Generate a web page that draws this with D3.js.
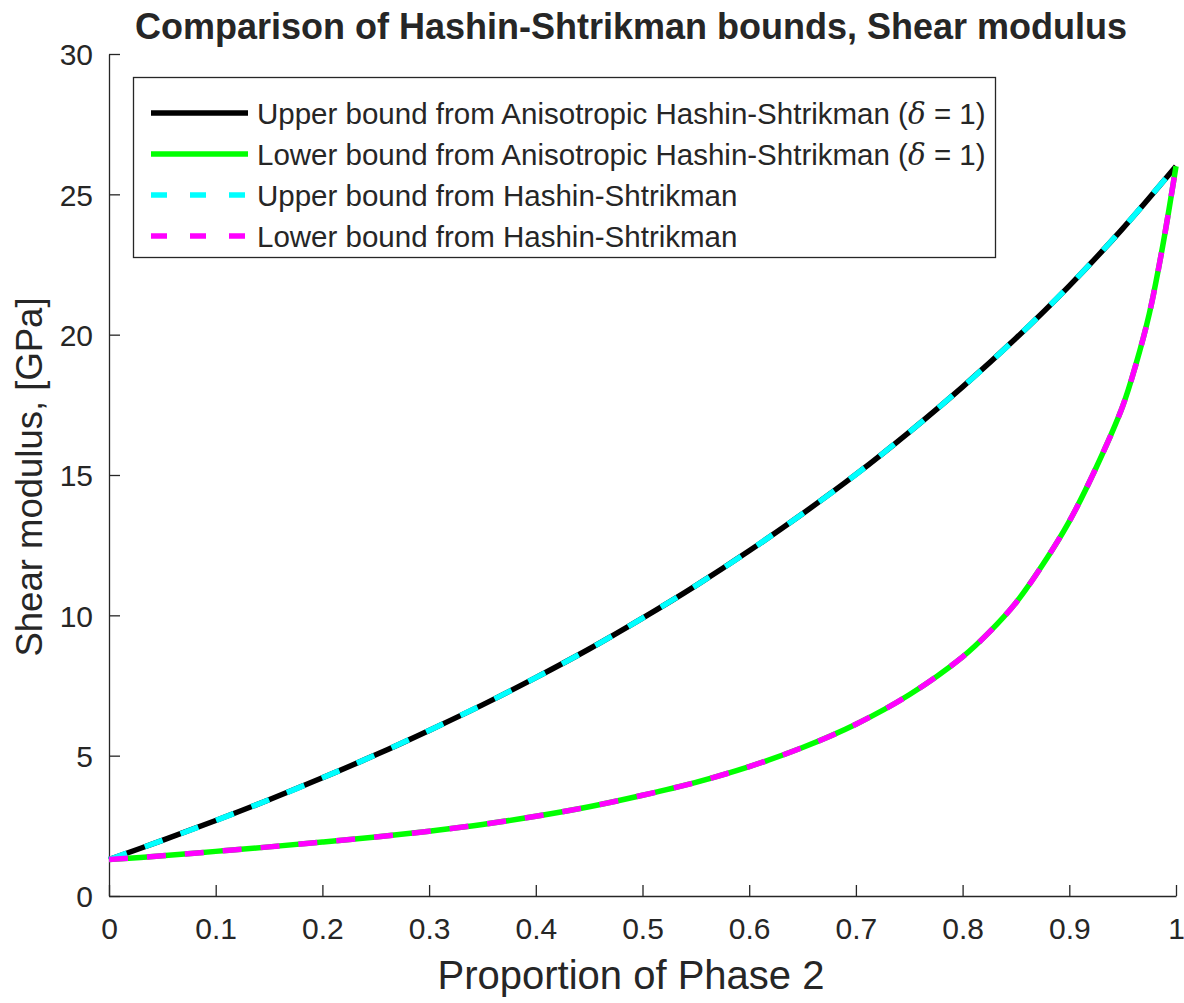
<!DOCTYPE html>
<html>
<head>
<meta charset="utf-8">
<script src="https://cdn.jsdelivr.net/npm/d3@7"></script>
<style>
  html, body { margin: 0; padding: 0; background: #ffffff; }
  svg { display: block; }
  text { font-family: "Liberation Sans", Arial, Helvetica, sans-serif; fill: #262626; }
</style>
</head>
<body>
<svg id="chart" width="1184" height="1003"></svg>
<script>
// Volume fraction of phase 2
const fractionUpper = [0, 0.05, 0.1, 0.15, 0.2, 0.25, 0.3, 0.35, 0.4, 0.45, 0.5,
                       0.55, 0.6, 0.65, 0.7, 0.75, 0.8, 0.85, 0.9, 0.95, 1.0];
// Upper bound shear modulus [GPa]
const shearUpper = [1.30, 1.98, 2.69, 3.43, 4.21, 5.03, 5.90, 6.81, 7.78, 8.80, 9.90,
                    11.06, 12.30, 13.62, 15.02, 16.53, 18.14, 19.87, 21.74, 23.78, 26.0];

const fractionLower = [0, 0.05, 0.1, 0.15, 0.2, 0.25, 0.3, 0.35, 0.4, 0.45, 0.5,
                       0.55, 0.6, 0.65, 0.7, 0.75, 0.8, 0.825, 0.85, 0.875, 0.9,
                       0.925, 0.95, 0.9625, 0.975, 0.9875, 1.0];
// Lower bound shear modulus [GPa]
const shearLower = [1.30, 1.43, 1.59, 1.75, 1.92, 2.10, 2.31, 2.55, 2.84, 3.18, 3.59,
                    4.05, 4.61, 5.29, 6.12, 7.17, 8.52, 9.40, 10.45, 11.80, 13.35,
                    15.25, 17.45, 18.95, 20.75, 23.15, 26.0];

const xTicks = [0, 0.1, 0.2, 0.3, 0.4, 0.5, 0.6, 0.7, 0.8, 0.9, 1];
const yTicks = [0, 5, 10, 15, 20, 25, 30];

const series = [
  { name: "Upper bound from Anisotropic Hashin-Shtrikman", delta: true,  color: "#000000", dashed: false, x: fractionUpper, y: shearUpper },
  { name: "Lower bound from Anisotropic Hashin-Shtrikman", delta: true,  color: "#00ff00", dashed: false, x: fractionLower, y: shearLower },
  { name: "Upper bound from Hashin-Shtrikman",             delta: false, color: "#00ffff", dashed: true,  x: fractionUpper, y: shearUpper },
  { name: "Lower bound from Hashin-Shtrikman",             delta: false, color: "#ff00ff", dashed: true,  x: fractionLower, y: shearLower }
];

const svg = d3.select("#chart");
const plot = { left: 109, right: 1176, top: 54, bottom: 896 };
const textCenter = 631;

const x = d3.scaleLinear().domain([0, 1]).range([plot.left, plot.right]);
const y = d3.scaleLinear().domain([0, 30]).range([plot.bottom, plot.top]);

const axisColor = "#262626";
const tickLen = 11;

// Axes (ticks point inward, no box)
const xAxis = svg.append("g")
  .attr("transform", `translate(0,${plot.bottom})`)
  .call(d3.axisBottom(x).tickValues(xTicks).tickSizeInner(-tickLen).tickSizeOuter(0)
        .tickPadding(22).tickFormat(d3.format("")));
const yAxis = svg.append("g")
  .attr("transform", `translate(${plot.left},0)`)
  .call(d3.axisLeft(y).tickValues(yTicks).tickSizeInner(-tickLen).tickSizeOuter(0)
        .tickPadding(16).tickFormat(d3.format("")));

[xAxis, yAxis].forEach(g => {
  g.select(".domain").attr("stroke", axisColor).attr("stroke-width", 1.3);
  g.selectAll(".tick line").attr("stroke", axisColor).attr("stroke-width", 1.3);
  g.selectAll(".tick text")
    .attr("fill", axisColor)
    .style("font-family", '"Liberation Sans", Arial, sans-serif')
    .style("font-size", "30px");
});
xAxis.selectAll(".tick text").attr("dy", "0.71em");
yAxis.selectAll(".tick text").attr("dy", "0.36em");

// Curves
const line = d3.line()
  .x(d => x(d[0]))
  .y(d => y(d[1]))
  .curve(d3.curveCatmullRom.alpha(0.5));

const curves = svg.append("g");
series.forEach(s => {
  curves.append("path")
    .datum(s.x.map((v, i) => [v, s.y[i]]))
    .attr("d", line)
    .attr("fill", "none")
    .attr("stroke", s.color)
    .attr("stroke-width", 5.5)
    .attr("stroke-dasharray", s.dashed ? "19,19" : null);
});

// Title and axis labels
svg.append("text")
  .attr("x", textCenter)
  .attr("y", 39)
  .attr("text-anchor", "middle")
  .style("font-size", "36px")
  .style("font-weight", "bold")
  .attr("fill", "#000000")
  .text("Comparison of Hashin-Shtrikman bounds, Shear modulus");

svg.append("text")
  .attr("x", textCenter)
  .attr("y", 989)
  .attr("text-anchor", "middle")
  .style("font-size", "40px")
  .text("Proportion of Phase 2");

svg.append("text")
  .attr("transform", `translate(42,${(plot.top + plot.bottom) / 2 + 2}) rotate(-90)`)
  .attr("text-anchor", "middle")
  .style("font-size", "36.5px")
  .text("Shear modulus, [GPa]");

// Legend
const legend = svg.append("g");
legend.append("rect")
  .attr("x", 133.5).attr("y", 77.5)
  .attr("width", 862).attr("height", 180)
  .attr("fill", "#ffffff")
  .attr("stroke", axisColor)
  .attr("stroke-width", 1.3);

series.forEach((s, i) => {
  const cy = 113 + i * 41;
  legend.append("line")
    .attr("x1", 151).attr("x2", 248)
    .attr("y1", cy).attr("y2", cy)
    .attr("stroke", s.color)
    .attr("stroke-width", 5.5)
    .attr("stroke-dasharray", s.dashed ? "16,23" : null);
  const t = legend.append("text")
    .attr("x", 257).attr("y", cy)
    .attr("dy", "0.36em")
    .style("font-size", "29.5px")
    .attr("fill", "#000000");
  t.append("tspan").text(s.name);
  if (s.delta) {
    t.append("tspan").text(" (");
    t.append("tspan").style("font-style", "italic").style("font-family", '"DejaVu Serif", serif').text("δ");
    t.append("tspan").text(" = 1)");
  }
});
</script>
</body>
</html>
